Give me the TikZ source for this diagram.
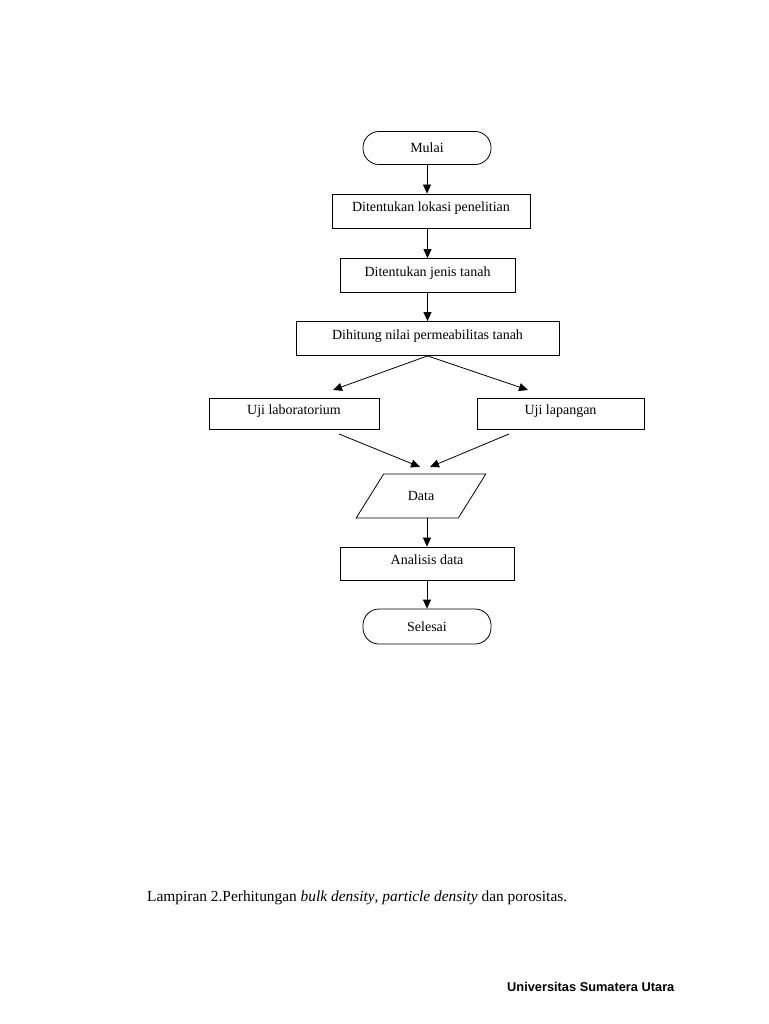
\documentclass[tikz,border=0pt]{standalone}
\usepackage{fontspec}
\setmainfont{Liberation Serif}
\newfontfamily\footfont{Liberation Sans}
\usetikzlibrary{arrows.meta,shapes.geometric}

\tikzset{
  base/.style={draw, line width=0.8pt, font=\fontsize{14}{16}\selectfont},
  term/.style={base, rectangle, rounded corners=16pt, minimum width=128, minimum height=33},
  proc/.style={base, rectangle, minimum height=34, text height=10pt, text depth=9pt},
  io/.style={base, trapezium, trapezium left angle=55, trapezium right angle=125,
             trapezium stretches=true, minimum width=130, minimum height=44, inner xsep=2pt},
  flow/.style={line width=0.8pt, -{Triangle[length=9pt,width=8pt]}}
}

\begin{document}
\begin{tikzpicture}[x=1pt,y=-1pt]
        \useasboundingbox (0,0) rectangle (768,1024);

        % the boxes of the chart
        \node[term] (mulai) at (427,148) {Mulai};
        \node[proc, minimum width=198] (lokasi) at (431,211) {Ditentukan lokasi penelitian};
        \node[proc, minimum width=175] (jenis) at (427.5,275.5) {Ditentukan jenis tanah};
        \node[proc, minimum width=263] (hitung) at (427.5,338.5) {Dihitung nilai permeabilitas tanah};
        \node[proc, minimum width=170, minimum height=31] (lab) at (294,413.5) {Uji laboratorium};
        \node[proc, minimum width=167, minimum height=31] (lap) at (560.5,413.5) {Uji lapangan};
        \node[io] (data) at (421,496) {Data};
        \node[proc, minimum width=174, minimum height=33] (analisis) at (427,563.5) {Analisis data};
        \node[term, minimum height=35] (selesai) at (427,626.5) {Selesai};

        % free ends of the slanted arrows
        \coordinate (labin) at (333,390);
        \coordinate (lapin) at (528,390);
        \coordinate (labout) at (339,434);
        \coordinate (lapout) at (509,434);
        \coordinate (datain1) at (420,467);
        \coordinate (datain2) at (430,467);

        % draw the arrows
        \draw[flow] (mulai.south) -- (mulai.south |- lokasi.north);
        \draw[flow] (jenis.north |- lokasi.south) -- (jenis.north);
        \draw[flow] (jenis.south) -- (hitung.north);
        \draw[flow] (hitung.south) -- (labin);
        \draw[flow] (hitung.south) -- (lapin);
        \draw[flow] (labout) -- (datain1);
        \draw[flow] (lapout) -- (datain2);
        \draw[flow] (analisis.north |- data.south) -- (analisis.north);
        \draw[flow] (analisis.south) -- (selesai.north);

        % the texts below
        \node[anchor=base west, font=\fontsize{15.4}{17}\selectfont, inner sep=0pt] (caption) at (147,901)
          {Lampiran 2.Perhitungan \textit{bulk density}, \textit{particle density} dan porositas.};
        \node[anchor=base west, font=\footfont\bfseries\fontsize{12.8}{14}\selectfont, inner sep=0pt] (univ) at (507,991)
          {Universitas Sumatera Utara};

    \end{tikzpicture}
\end{document}
